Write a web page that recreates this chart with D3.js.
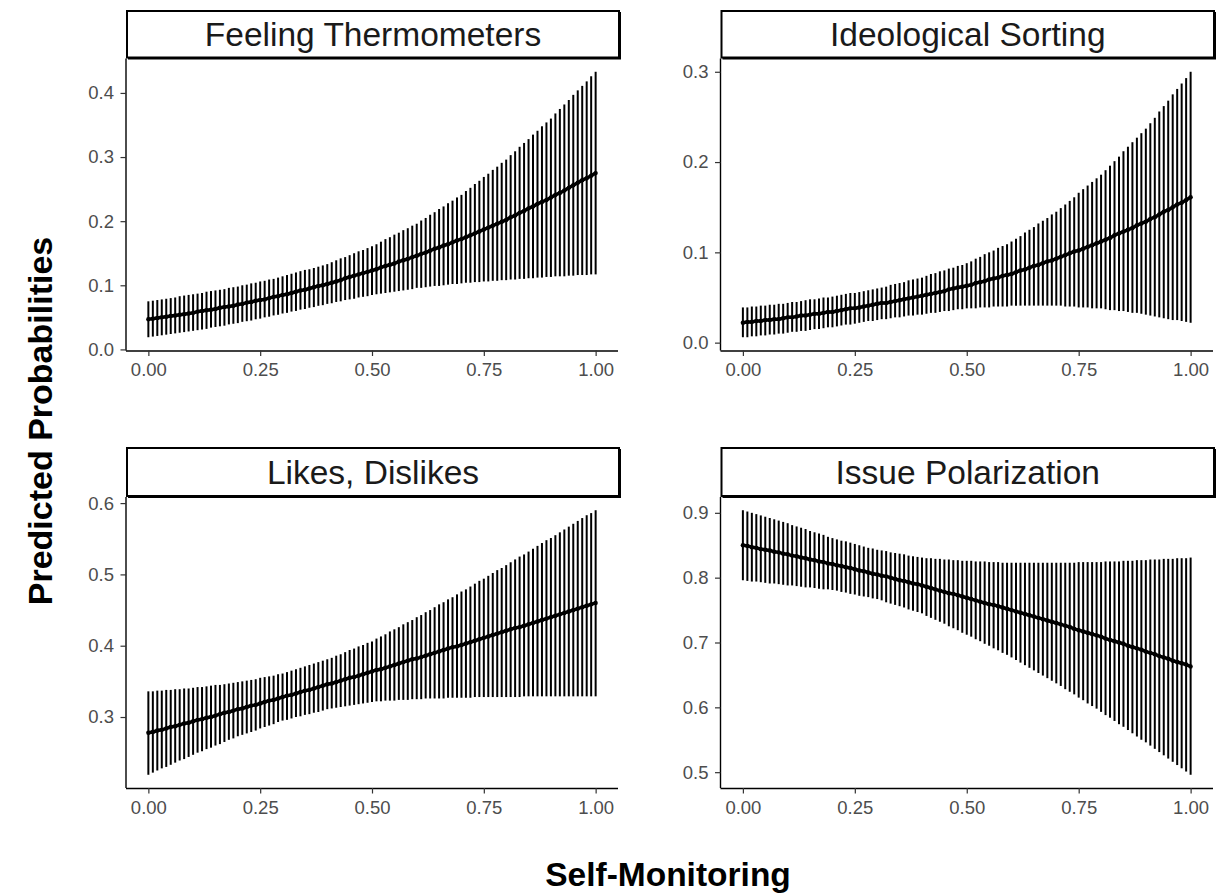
<!DOCTYPE html>
<html><head><meta charset="utf-8">
<script src="https://cdn.jsdelivr.net/npm/d3@7"></script>
<style>
body{margin:0;background:#fff}
svg{display:block}
text{font-family:"Liberation Sans",Arial,Helvetica,sans-serif}
</style>
</head><body>
<svg id="chart" width="1220" height="896"></svg>
<script>
// ---------- data ----------
const selfMonitoring = [0,0.01,0.02,0.03,0.04,0.05,0.06,0.07,0.08,0.09,
0.10,0.11,0.12,0.13,0.14,0.15,0.16,0.17,0.18,0.19,
0.20,0.21,0.22,0.23,0.24,0.25,0.26,0.27,0.28,0.29,
0.30,0.31,0.32,0.33,0.34,0.35,0.36,0.37,0.38,0.39,
0.40,0.41,0.42,0.43,0.44,0.45,0.46,0.47,0.48,0.49,
0.50,0.51,0.52,0.53,0.54,0.55,0.56,0.57,0.58,0.59,
0.60,0.61,0.62,0.63,0.64,0.65,0.66,0.67,0.68,0.69,
0.70,0.71,0.72,0.73,0.74,0.75,0.76,0.77,0.78,0.79,
0.80,0.81,0.82,0.83,0.84,0.85,0.86,0.87,0.88,0.89,
0.90,0.91,0.92,0.93,0.94,0.95,0.96,0.97,0.98,0.99,1.00];

const panelTitles = ["Feeling Thermometers","Ideological Sorting","Likes, Dislikes","Issue Polarization"];

const feelingMean = [.047,.048,.049,.050,.051,.052,.053,.054,.055,.056,
.057,.059,.060,.061,.062,.063,.065,.066,.067,.068,
.070,.071,.073,.074,.076,.077,.078,.080,.082,.083,
.085,.086,.088,.090,.092,.093,.095,.097,.099,.100,
.102,.104,.106,.108,.111,.113,.115,.117,.119,.121,
.123,.125,.128,.130,.132,.134,.137,.139,.141,.144,
.146,.149,.151,.154,.157,.159,.162,.164,.167,.170,
.172,.175,.178,.181,.184,.187,.190,.193,.196,.199,
.202,.206,.209,.213,.216,.220,.223,.227,.230,.233,
.237,.241,.244,.248,.252,.256,.260,.264,.267,.271,.275];
const feelingUpper = [.075,.076,.077,.078,.079,.080,.081,.083,.084,.085,
.086,.087,.088,.090,.091,.092,.093,.094,.096,.097,
.098,.100,.101,.103,.104,.106,.107,.109,.110,.112,
.114,.116,.118,.120,.122,.124,.125,.127,.129,.131,
.133,.136,.139,.142,.144,.147,.150,.153,.155,.158,
.161,.164,.168,.172,.175,.179,.182,.186,.189,.193,
.196,.201,.205,.210,.214,.219,.223,.228,.232,.237,
.241,.247,.252,.258,.263,.269,.274,.280,.285,.291,
.296,.303,.309,.316,.322,.328,.335,.341,.348,.354,
.360,.368,.375,.382,.389,.397,.404,.411,.418,.426,.433];
const feelingLower = [.019,.020,.021,.022,.023,.024,.025,.026,.027,.028,
.029,.030,.031,.032,.034,.035,.036,.037,.039,.040,
.041,.043,.044,.045,.047,.048,.050,.051,.053,.054,
.056,.057,.059,.060,.062,.063,.065,.066,.068,.069,
.071,.072,.074,.075,.077,.078,.079,.081,.082,.083,
.085,.086,.087,.088,.089,.090,.091,.092,.093,.094,
.096,.096,.097,.098,.099,.099,.100,.101,.102,.102,
.103,.104,.104,.105,.105,.106,.106,.107,.107,.108,
.108,.109,.109,.110,.110,.111,.111,.112,.112,.113,
.113,.114,.114,.114,.115,.115,.116,.116,.116,.117,.117];

const sortingMean = [.022,.023,.023,.024,.024,.025,.025,.026,.026,.027,
.028,.028,.029,.030,.030,.031,.032,.032,.033,.034,
.034,.035,.036,.037,.038,.038,.039,.040,.041,.042,
.043,.044,.044,.045,.046,.047,.048,.049,.050,.051,
.052,.053,.054,.055,.056,.057,.059,.060,.061,.062,
.063,.064,.066,.067,.068,.070,.071,.072,.074,.075,
.076,.078,.080,.081,.083,.085,.086,.088,.090,.091,
.093,.095,.097,.099,.101,.102,.104,.106,.108,.110,
.112,.114,.116,.119,.121,.123,.125,.127,.130,.132,
.134,.137,.139,.142,.145,.147,.150,.153,.155,.158,.161];
const sortingUpper = [.039,.039,.040,.040,.041,.041,.042,.042,.043,.043,
.044,.045,.045,.046,.047,.048,.048,.049,.050,.050,
.051,.052,.053,.054,.055,.055,.056,.057,.058,.059,
.060,.061,.062,.064,.065,.066,.067,.069,.070,.071,
.072,.074,.076,.077,.079,.080,.082,.083,.085,.086,
.088,.090,.093,.095,.098,.100,.102,.105,.107,.109,
.112,.115,.118,.122,.125,.128,.132,.135,.138,.142,
.145,.149,.153,.157,.161,.166,.170,.174,.178,.182,
.186,.191,.196,.201,.206,.212,.217,.222,.227,.232,
.237,.243,.249,.256,.262,.268,.275,.281,.287,.293,.300];
const sortingLower = [.006,.006,.007,.007,.008,.008,.009,.009,.010,.010,
.011,.012,.012,.013,.013,.014,.015,.015,.016,.017,
.017,.018,.019,.020,.020,.021,.022,.023,.024,.024,
.025,.026,.026,.027,.028,.028,.029,.030,.030,.031,
.031,.032,.033,.033,.034,.035,.035,.036,.037,.037,
.038,.038,.038,.039,.039,.039,.040,.040,.040,.040,
.041,.041,.041,.041,.041,.041,.041,.041,.041,.041,
.041,.041,.040,.040,.040,.039,.039,.039,.038,.038,
.038,.037,.036,.036,.035,.035,.034,.033,.033,.032,
.031,.030,.029,.028,.027,.026,.025,.025,.024,.023,.022];

const likesMean = [.278,.279,.281,.282,.284,.286,.287,.289,.291,.292,
.294,.296,.297,.299,.300,.302,.304,.306,.307,.309,
.311,.312,.314,.316,.317,.319,.321,.323,.324,.326,
.328,.330,.331,.333,.335,.337,.338,.340,.342,.344,
.346,.347,.349,.351,.353,.355,.356,.358,.360,.362,
.364,.366,.367,.369,.371,.373,.375,.377,.379,.381,
.382,.384,.386,.388,.390,.392,.394,.396,.398,.399,
.401,.403,.405,.407,.409,.411,.413,.415,.417,.419,
.421,.423,.425,.426,.428,.430,.432,.434,.436,.438,
.440,.442,.444,.446,.448,.450,.452,.454,.456,.458,.460];
const likesUpper = [.336,.336,.337,.337,.338,.338,.339,.339,.340,.340,
.341,.342,.342,.343,.344,.345,.345,.346,.347,.348,
.349,.350,.351,.352,.353,.355,.356,.357,.358,.360,
.361,.363,.365,.367,.369,.371,.373,.375,.377,.379,
.381,.383,.386,.388,.391,.394,.396,.399,.401,.404,
.406,.410,.413,.416,.420,.423,.426,.430,.433,.436,
.440,.443,.447,.450,.454,.458,.461,.465,.468,.472,
.476,.479,.483,.487,.491,.494,.498,.502,.506,.509,
.513,.517,.521,.525,.528,.532,.536,.540,.544,.548,
.551,.555,.559,.563,.567,.571,.575,.579,.583,.586,.590];
const likesLower = [.219,.222,.225,.228,.230,.233,.236,.239,.241,.244,
.247,.250,.252,.255,.257,.260,.262,.265,.268,.270,
.273,.275,.277,.279,.281,.284,.286,.288,.290,.293,
.295,.296,.298,.300,.301,.303,.304,.306,.307,.309,
.311,.312,.313,.314,.315,.316,.317,.318,.319,.320,
.321,.322,.322,.323,.323,.323,.324,.324,.324,.325,
.325,.325,.326,.326,.326,.326,.326,.327,.327,.327,
.327,.327,.327,.328,.328,.328,.328,.328,.328,.328,
.328,.328,.328,.328,.329,.329,.329,.329,.329,.329,
.329,.329,.329,.329,.329,.329,.329,.329,.329,.329,.329];

const issueMean = [.850,.849,.847,.846,.844,.843,.842,.840,.839,.837,
.836,.834,.833,.831,.830,.828,.827,.825,.824,.822,
.821,.819,.818,.816,.815,.813,.811,.810,.808,.806,
.805,.803,.802,.800,.798,.796,.795,.793,.791,.790,
.788,.786,.784,.782,.780,.778,.776,.775,.773,.771,
.769,.767,.765,.763,.761,.759,.758,.756,.754,.752,
.750,.748,.746,.744,.742,.740,.738,.736,.734,.732,
.730,.728,.726,.724,.721,.719,.717,.715,.713,.711,
.709,.706,.704,.702,.700,.698,.695,.693,.691,.689,
.686,.684,.682,.679,.677,.675,.672,.670,.668,.666,.663];
const issueUpper = [.904,.902,.900,.898,.896,.894,.892,.890,.888,.886,
.884,.881,.879,.877,.875,.872,.870,.868,.866,.863,
.861,.859,.857,.856,.854,.852,.850,.848,.846,.845,
.843,.842,.841,.839,.838,.837,.836,.834,.833,.832,
.831,.830,.830,.829,.829,.828,.828,.827,.827,.826,
.826,.826,.825,.825,.825,.824,.824,.824,.823,.823,
.823,.823,.823,.823,.823,.823,.823,.823,.823,.823,
.823,.823,.823,.823,.823,.824,.824,.824,.824,.824,
.824,.825,.825,.825,.825,.826,.826,.826,.827,.827,
.827,.828,.828,.828,.829,.829,.829,.830,.830,.830,.831];
const issueLower = [.796,.795,.794,.794,.793,.792,.791,.791,.790,.789,
.788,.788,.787,.786,.785,.785,.784,.783,.782,.782,
.781,.780,.778,.777,.775,.774,.772,.771,.770,.768,
.767,.765,.762,.760,.758,.756,.754,.751,.749,.747,
.745,.741,.738,.735,.732,.729,.725,.722,.719,.715,
.712,.709,.705,.702,.698,.695,.691,.688,.684,.681,
.677,.673,.669,.665,.661,.657,.653,.649,.645,.641,
.637,.633,.628,.624,.620,.615,.611,.606,.602,.598,
.593,.588,.584,.579,.574,.570,.565,.560,.555,.550,
.546,.541,.536,.531,.526,.521,.516,.511,.506,.501,.496];

const xTickValues = [0, 0.25, 0.5, 0.75, 1];
const yTicksFeeling = [0, 0.1, 0.2, 0.3, 0.4];
const yTicksSorting = [0, 0.1, 0.2, 0.3];
const yTicksLikes = [0.3, 0.4, 0.5, 0.6];
const yTicksIssue = [0.5, 0.6, 0.7, 0.8, 0.9];

const xAxisTitle = "Self-Monitoring";
const yAxisTitle = "Predicted Probabilities";

// ---------- layout ----------
const svg = d3.select("#chart");
const panelBoxes = [
  {x0:126,   x1:618,  y0:58.5, y1:350.5, s0:11,  s1:58.5},
  {x0:720.5, x1:1213, y0:58.5, y1:350.5, s0:11,  s1:58.5},
  {x0:126,   x1:618,  y0:497,  y1:788,   s0:448, s1:497},
  {x0:720.5, x1:1213, y0:497,  y1:788,   s0:448, s1:497}
];
const panels = [
  {title: panelTitles[0], mean: feelingMean, lower: feelingLower, upper: feelingUpper, yTicks: yTicksFeeling},
  {title: panelTitles[1], mean: sortingMean, lower: sortingLower, upper: sortingUpper, yTicks: yTicksSorting},
  {title: panelTitles[2], mean: likesMean,   lower: likesLower,   upper: likesUpper,   yTicks: yTicksLikes},
  {title: panelTitles[3], mean: issueMean,   lower: issueLower,   upper: issueUpper,   yTicks: yTicksIssue}
];

const tickColor = "#333333";
const labelColor = "#4d4d4d";

panels.forEach((p, k) => {
  const b = panelBoxes[k];
  const xmin = d3.min(selfMonitoring), xmax = d3.max(selfMonitoring);
  const xpad = 0.05 * (xmax - xmin);
  const x = d3.scaleLinear().domain([xmin - xpad, xmax + xpad]).range([b.x0, b.x1]);
  const ymin = d3.min(p.lower), ymax = d3.max(p.upper);
  const ypad = 0.05 * (ymax - ymin);
  const y = d3.scaleLinear().domain([ymin - ypad, ymax + ypad]).range([b.y1, b.y0]);

  const g = svg.append("g");

  // error bars
  g.append("g").selectAll("line").data(selfMonitoring).join("line")
    .attr("x1", (d) => x(d)).attr("x2", (d) => x(d))
    .attr("y1", (d, i) => y(p.lower[i])).attr("y2", (d, i) => y(p.upper[i]))
    .attr("stroke", "#000").attr("stroke-width", 2);

  // mean line
  const line = d3.line().x((d) => x(d)).y((d, i) => y(p.mean[i]));
  g.append("path").datum(selfMonitoring).attr("d", line)
    .attr("fill", "none").attr("stroke", "#000").attr("stroke-width", 3.5)
    .attr("stroke-linejoin", "round");
  g.append("g").selectAll("circle").data(selfMonitoring).join("circle")
    .attr("cx", (d) => x(d)).attr("cy", (d, i) => y(p.mean[i]))
    .attr("r", 2.2).attr("fill", "#000");

  // axes
  const xAxis = d3.axisBottom(x).tickValues(xTickValues).tickFormat(d3.format(".2f"))
    .tickSize(5.5).tickSizeOuter(0).tickPadding(7);
  const gx = g.append("g").attr("transform", `translate(0,${b.y1})`).call(xAxis);
  const yAxis = d3.axisLeft(y).tickValues(p.yTicks).tickFormat(d3.format(".1f"))
    .tickSize(5.5).tickSizeOuter(0).tickPadding(6.5);
  const gy = g.append("g").attr("transform", `translate(${b.x0},0)`).call(yAxis);
  [gx, gy].forEach(a => {
    a.select(".domain").attr("stroke", "#000").attr("stroke-width", 1.4);
    a.selectAll(".tick line").attr("stroke", tickColor).attr("stroke-width", 1.2);
    a.selectAll(".tick text").attr("fill", labelColor)
      .style("font-size", "18.5px");
  });
  gx.select(".domain").attr("d", `M${b.x0},0.5H${b.x1}`);
  gy.select(".domain").attr("d", `M0,${b.y1}V${b.y0}`);

  // strip
  const sg = g.append("g");
  sg.append("rect").attr("x", b.x0 + 1).attr("y", b.s0)
    .attr("width", b.x1 - b.x0).attr("height", b.s1 - b.s0 - 1)
    .attr("fill", "#fff").attr("stroke", "#000").attr("stroke-width", 2);
  sg.append("path")
    .attr("d", `M${b.x1 + 2},${b.s0 + 1}V${b.s1}H${b.x0 + 2}`)
    .attr("fill", "none").attr("stroke", "#000").attr("stroke-width", 2);
  sg.append("text").attr("x", (b.x0 + b.x1) / 2 + 1).attr("y", (b.s0 + b.s1) / 2 + 11.5)
    .attr("text-anchor", "middle").attr("fill", "#1a1a1a")
    .style("font-size", "33.5px").text(p.title);
});

// axis titles
svg.append("text").attr("x", 668).attr("y", 886).attr("text-anchor", "middle")
  .style("font-size", "33.5px").style("font-weight", "bold").attr("fill", "#000")
  .text(xAxisTitle);
svg.append("text").attr("transform", "translate(52,421) rotate(-90)").attr("text-anchor", "middle")
  .style("font-size", "34px").style("font-weight", "bold").attr("fill", "#000")
  .text(yAxisTitle);
</script>
</body></html>
